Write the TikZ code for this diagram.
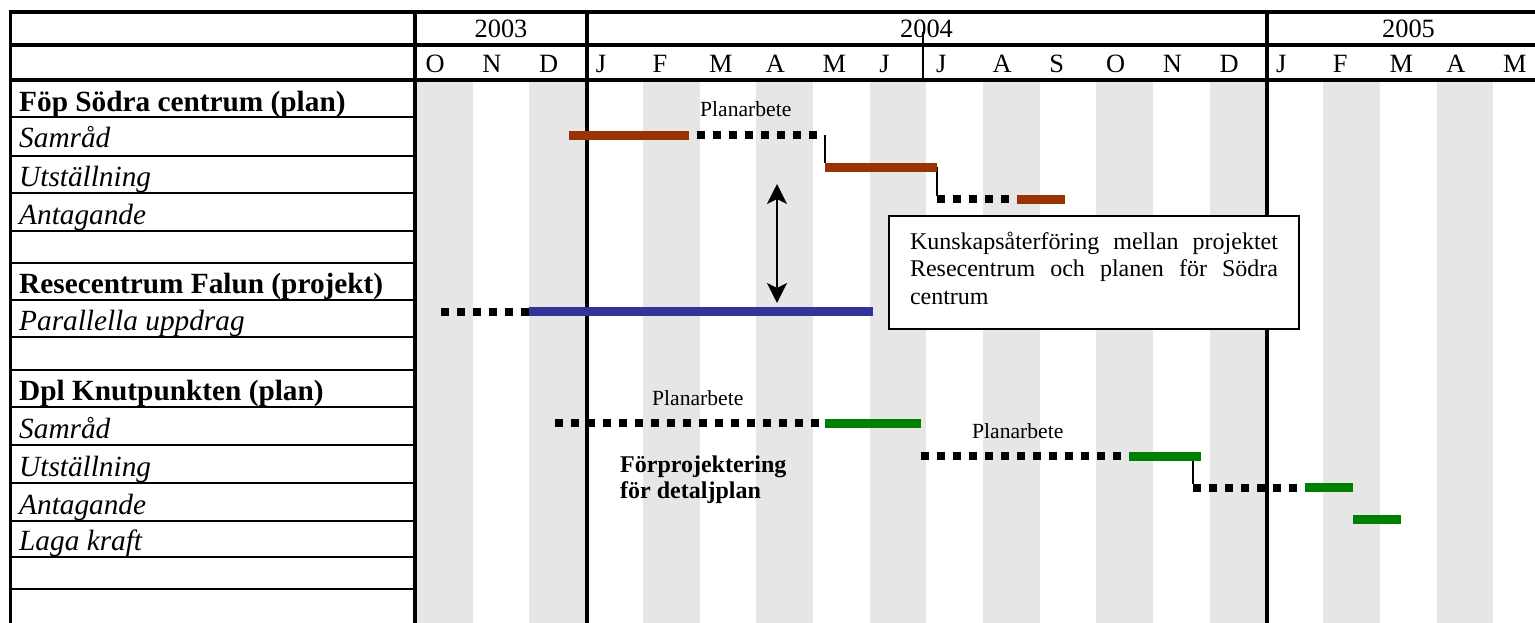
\documentclass[tikz,border=0pt]{standalone}
\usepackage{fontspec}
\setmainfont{Liberation Serif}
\usetikzlibrary{arrows.meta}
\definecolor{planbrown}{HTML}{993300}
\definecolor{projblue}{HTML}{333399}
\definecolor{dplgreen}{HTML}{008000}
\definecolor{stripegray}{HTML}{E6E6E6}

\begin{document}
\begin{tikzpicture}[x=1pt,y=-1pt,
    hdr/.style={line width=4pt},
    rowline/.style={line width=2pt},
    yearsep/.style={line width=4pt},
    joinline/.style={line width=2pt},
    month/.style={anchor=base west,inner sep=0pt,font=\fontsize{26.4}{30}\selectfont},
    year/.style={anchor=base,inner sep=0pt,font=\fontsize{26.4}{30}\selectfont},
    grphead/.style={anchor=base west,inner sep=0pt,font=\fontsize{29.3}{34}\selectfont\bfseries},
    task/.style={anchor=base west,inner sep=0pt,font=\fontsize{29.3}{34}\selectfont\itshape},
    note/.style={anchor=base west,inner sep=0pt,font=\fontsize{21.6}{26}\selectfont},
    bar/.style={line width=9pt,draw=#1},
    wait/.style={line width=8pt,dash pattern=on 8pt off 8pt}]
      \useasboundingbox (0,0) rectangle (1535,623);
      \clip (0,0) rectangle (1535,623);

      \foreach \i in {0,2,...,18}
        \fill[stripegray] ({416+56.7*\i},82) rectangle ({416+56.7*(\i+1)},623);

      \draw[hdr] (8.5,12) -- (1560,12);
      \draw[hdr] (10,45.5) -- (1560,45.5);
      \draw[hdr] (10,80.5) -- (1560,80.5);
      \foreach \y in {117,156,193,231,263,300,337,370,407,445,483,521,557,589}
        \draw[rowline] (10,\y) -- (415,\y);
      \draw[line width=2.5pt] (10.5,10) -- (10.5,623);
      \draw[yearsep] (415,10) -- (415,623);
      \draw[yearsep] (586.5,10) -- (586.5,623);
      \draw[yearsep] (1267,10) -- (1267,623);
      \draw[line width=1.8pt] (923,32) -- (923,80);

      \node[year] (y2003) at (501,38) {2003};
      \node[year] (y2004) at (926.5,38) {2004};
      \node[year] (y2005) at (1408.5,38) {2005};
      \foreach \m [count=\i from 0] in {O,N,D,J,F,M,A,M,J,J,A,S,O,N,D,J,F,M,A,M}
        \node[month] (mon\i) at ({425.5+56.7*\i},73) {\m};

      \node[grphead] (fop) at (19,112) {Föp Södra centrum (plan)};
      \node[task] (fopsam) at (19,148) {Samråd};
      \node[task] (foputs) at (19,186) {Utställning};
      \node[task] (fopant) at (19,224) {Antagande};
      \node[grphead] (rese) at (19,293) {Resecentrum Falun (projekt)};
      \node[task] (resepar) at (19,330) {Parallella uppdrag};
      \node[grphead] (dpl) at (19,400) {Dpl Knutpunkten (plan)};
      \node[task] (dplsam) at (19,438) {Samråd};
      \node[task] (dpluts) at (19,476) {Utställning};
      \node[task] (dplant) at (19,514) {Antagande};
      \node[task] (dpllaga) at (19,550) {Laga kraft};

      \draw[joinline] (825,135) -- (825,163);
      \draw[joinline] (937,167) -- (937,196);
      \draw[bar=planbrown] (569,136) -- (689,136);
      \draw[wait] (697,135.5) -- (817,135.5);
      \draw[bar=planbrown] (825,167.5) -- (937,167.5);
      \draw[wait] (937,199.5) -- (1009,199.5);
      \draw[bar=planbrown] (1017,199.5) -- (1065,199.5);
      \node[note] (plan1) at (700,117) {Planarbete};

      \draw[wait] (441,311.5) -- (529,311.5);
      \draw[bar=projblue] (529,311.5) -- (873,311.5);

      \draw[joinline] (1193,455) -- (1193,484);
      \draw[wait] (555,423) -- (819,423);
      \draw[bar=dplgreen] (825,423.5) -- (921,423.5);
      \draw[wait] (921,456) -- (1121,456);
      \draw[bar=dplgreen] (1129,456) -- (1201,456);
      \draw[wait] (1193,487.5) -- (1297,487.5);
      \draw[bar=dplgreen] (1305,487.5) -- (1353,487.5);
      \draw[bar=dplgreen] (1353,519.5) -- (1401,519.5);
      \node[note] (plan2) at (652,405) {Planarbete};
      \node[note] (plan3) at (972,438) {Planarbete};
      \node[anchor=base west,inner sep=0pt,align=left,font=\fontsize{24}{26}\selectfont\bfseries] (forproj) at (620,498) {Förprojektering\\för detaljplan};

      \coordinate (kup) at (777,184);
      \coordinate (kdown) at (777,303);
      \draw[line width=2pt,{Stealth[length=20pt,width=20pt,inset=5pt]}-{Stealth[length=20pt,width=20pt,inset=5pt]}] (kup) -- (kdown);

      \node[draw,line width=2pt,fill=white,anchor=north west,inner ysep=0pt,inner xsep=21pt,text width=368pt,align=justify,font=\fontsize{24}{27.5}\selectfont] (kbox) at (888,215) {\rule{0pt}{33pt}Kunskapsåterföring mellan projektet Resecentrum och planen för Södra centrum\rule[-25pt]{0pt}{25pt}};
    \end{tikzpicture}
\end{document}
